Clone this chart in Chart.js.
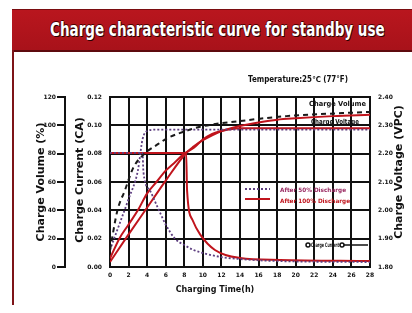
<!DOCTYPE html>
<html>
<head>
<meta charset="utf-8">
<script src="https://cdn.jsdelivr.net/npm/chart.js@4.4.1/dist/chart.umd.min.js"></script>
<style>
  html, body { margin: 0; padding: 0; background: #fff; }
  #wrap { position: relative; width: 412px; height: 313px; overflow: hidden; background: #fff; }
  #bar { position: absolute; left: 12px; top: 9px; width: 400px; height: 40px;
    background: linear-gradient(#b9161e, #a8121a); border-top: 1px solid #7a0c10; border-bottom: 2px solid #5e0a0e; }
  #frame { position: absolute; left: 12px; top: 50px; width: 2px; height: 255px; background: #7e1418; }
  #title { position: absolute; left: 50px; top: 17px; font: bold 20px 'DejaVu Sans Condensed', 'DejaVu Sans', sans-serif;
    line-height: 24px; color: #fff; white-space: nowrap; transform-origin: 0 0;
    text-shadow: 1px 1px 0 #2a0000, -1px 0 0 #4a0000, 0 -1px 0 #4a0000; }
  canvas { position: absolute; left: 0; top: 0; }
</style>
</head>
<body>
<div id="wrap">
  <div id="bar"></div>
  <div id="frame"></div>
  <div id="title">Charge characteristic curve for standby use</div>
  <canvas id="chart" width="412" height="313"></canvas>
</div>
<script>
// 充电特性曲线（浮充用）

// 横轴刻度 0-28h
const timeTicks = [0, 2, 4, 6, 8, 10, 12, 14, 16, 18, 20, 22, 24, 26, 28];

// 充电量 (%) — 100% 放电后（红实线）
const volFullH = [0, 2, 4, 6, 8.2, 9, 10, 11, 12, 14, 16, 18, 20, 24, 28];
const volFull = [3.5, 23, 42, 61, 80.5, 85, 89.5, 93, 96, 99.5, 102, 104, 105, 106.5, 107.5];

// 充电量 (%) — 黑色虚线
const volHalfH = [0, 0.8, 1.6, 2.5, 3.8, 5, 6.2, 7.5, 9.7, 14, 19, 28];
const volHalf = [12, 40, 54, 70, 80.5, 86, 91, 94.5, 99, 103, 106.5, 109.5];

// 充电电流 (CA)
const curFullH = [0, 8.2, 8.3, 8.9, 9.7, 11.3, 14, 18.3, 28];
const curFull = [0.0805, 0.0805, 0.054, 0.033, 0.023, 0.012, 0.0064, 0.005, 0.0042];
const curHalfH = [0, 3.5, 3.6, 4.3, 5, 6, 7, 8, 9, 10, 12, 14, 18, 28];
const curHalf = [0.0805, 0.0805, 0.067, 0.054, 0.044, 0.030, 0.020, 0.0155, 0.012, 0.0099, 0.007, 0.0056, 0.0042, 0.0035];

// 充电电压 (V/cell)
const voltFullH = [0, 1, 2, 3, 4, 5, 6, 7, 8, 9, 10, 11, 12, 14, 28];
const voltFull = [1.83, 1.90, 1.95, 2.00, 2.06, 2.10, 2.14, 2.17, 2.20, 2.22, 2.25, 2.27, 2.28, 2.29, 2.29];
const voltHalfH = [0, 1, 2, 3, 3.5, 4, 5, 28];
const voltHalf = [1.86, 1.95, 2.04, 2.14, 2.25, 2.28, 2.285, 2.285];

const RED = '#c0141c';
const PURPLE = '#5e3f80';
const TXT = "'DejaVu Sans', 'Liberation Sans', sans-serif";

const t = document.getElementById('title');
t.style.transform = 'scaleX(' + (335 / t.offsetWidth) + ')';

const pts = (xs, ys) => xs.map((x, i) => ({ x, y: ys[i] }));

const base = { fill: false, pointRadius: 0, cubicInterpolationMode: 'monotone' };

// 文字标注插件
const notes = {
  id: 'notes',
  afterDraw(chart) {
    const c = chart.ctx;
    c.save();
    c.fillStyle = '#111';
    c.textBaseline = 'middle';

    // 按宽度压缩的文字
    const fitText = (text, x, y, w) => {
      const m = c.measureText(text).width;
      c.save();
      c.translate(x, y);
      c.scale(Math.min(1, w / m), 1);
      c.fillText(text, 0, 0);
      c.restore();
    };

    // 轴标题
    const vtitle = (text, x, y) => {
      c.save();
      c.translate(x, y);
      c.rotate(-Math.PI / 2);
      c.textAlign = 'center';
      c.fillText(text, 0, 0);
      c.restore();
    };
    c.font = 'bold 11px ' + TXT;
    vtitle('Charge Volume (%)', 41, 182);
    vtitle('Charge Current (CA)', 80, 180);
    vtitle('Charge Voltage (VPC)', 399, 172);
    c.font = 'bold 8px ' + TXT;
    c.textAlign = 'center';
    c.fillText('Charging Time(h)', 215, 290);

    c.textAlign = 'left';
    c.font = 'bold 8px ' + TXT;
    fitText('Temperature:25\u2103 (77\u00b0F)', 248, 80, 100);

    c.font = 'bold 7px ' + TXT;
    fitText('Charge Volume', 309, 104, 57);
    fitText('Charge Voltage', 311, 122, 48);

    // Charge Current 引线
    c.strokeStyle = '#111';
    c.lineWidth = 1.5;
    c.beginPath();
    c.moveTo(342, 245); c.lineTo(368, 245);
    c.stroke();
    c.font = 'bold 6px ' + TXT;
    fitText('Charge Current', 311, 245, 28);
    [308, 342].forEach((x) => {
      c.beginPath();
      c.arc(x, 245, 2, 0, Math.PI * 2);
      c.fillStyle = '#fff';
      c.fill();
      c.stroke();
    });

    // 图例
    c.lineWidth = 2;
    c.strokeStyle = PURPLE;
    c.setLineDash([2, 2]);
    c.beginPath(); c.moveTo(245, 189); c.lineTo(270, 189); c.stroke();
    c.setLineDash([]);
    c.strokeStyle = RED;
    c.beginPath(); c.moveTo(245, 199); c.lineTo(270, 199); c.stroke();
    c.font = 'bold 6px ' + TXT;
    c.fillStyle = '#9a2a62';
    fitText('After 50% Discharge', 280, 190, 66);
    c.fillStyle = RED;
    fitText('After 100% Discharge', 280, 201, 70);
    c.restore();
  },
};

new Chart(document.getElementById('chart'), {
  type: 'line',
  data: {
    datasets: [
      { ...base, label: 'vol50', data: pts(volHalfH, volHalf), yAxisID: 'yVol', borderColor: '#1a1a1a', borderWidth: 2, borderDash: [5, 4] },
      { ...base, label: 'cur50', data: pts(curHalfH, curHalf), yAxisID: 'yCur', borderColor: PURPLE, borderWidth: 1.8, borderDash: [2, 2] },
      { ...base, label: 'volt50', data: pts(voltHalfH, voltHalf), yAxisID: 'yVolt', borderColor: PURPLE, borderWidth: 1.8, borderDash: [2, 2] },
      { ...base, label: 'vol100', data: pts(volFullH, volFull), yAxisID: 'yVol', borderColor: RED, borderWidth: 2 },
      { ...base, label: 'cur100', data: pts(curFullH, curFull), yAxisID: 'yCur', borderColor: RED, borderWidth: 2 },
      { ...base, label: 'volt100', data: pts(voltFullH, voltFull), yAxisID: 'yVolt', borderColor: RED, borderWidth: 2 },
    ],
  },
  options: {
    responsive: false,
    animation: false,
    devicePixelRatio: 1,
    layout: { padding: { top: 97, left: 0, right: 0, bottom: 0 } },
    plugins: { legend: { display: false }, tooltip: { enabled: false } },
    scales: {
      x: {
        type: 'linear',
        min: 0,
        max: 28,
        afterBuildTicks: (s) => { s.ticks = timeTicks.map((v) => ({ value: v })); },
        afterFit: (s) => { s.height = 46; },
        grid: { color: '#111', lineWidth: 2, drawTicks: false },
        border: { display: true, color: '#111', width: 2 },
        ticks: { padding: 5, color: '#111', font: { size: 6, weight: 'bold', family: TXT }, maxRotation: 0 },
      },
      yCur: {
        position: 'left',
        weight: 0,
        min: 0,
        max: 0.12,
        afterFit: (s) => { s.width = 45; },
        grid: { color: '#111', lineWidth: 2, drawTicks: false },
        border: { display: true, color: '#111', width: 2 },
        ticks: { stepSize: 0.02, padding: 8, color: '#111', font: { size: 6, weight: 'bold', family: TXT }, callback: (v) => v.toFixed(2) },
      },
      yVol: {
        position: 'left',
        weight: 1,
        min: 0,
        max: 120,
        afterFit: (s) => { s.width = 65; },
        grid: { drawOnChartArea: false, color: '#111', lineWidth: 2, tickLength: 8 },
        border: { display: true, color: '#111', width: 2 },
        ticks: { stepSize: 20, padding: 1, color: '#111', font: { size: 6, weight: 'bold', family: TXT } },
      },
      yVolt: {
        position: 'right',
        min: 1.8,
        max: 2.4,
        afterFit: (s) => { s.width = 42; },
        grid: { drawOnChartArea: false, drawTicks: false },
        border: { display: true, color: '#111', width: 2 },
        ticks: { stepSize: 0.1, padding: 8, color: '#111', font: { size: 6, weight: 'bold', family: TXT }, callback: (v) => v.toFixed(2) },
      },
    },
  },
  plugins: [notes],
});
</script>
</body>
</html>
